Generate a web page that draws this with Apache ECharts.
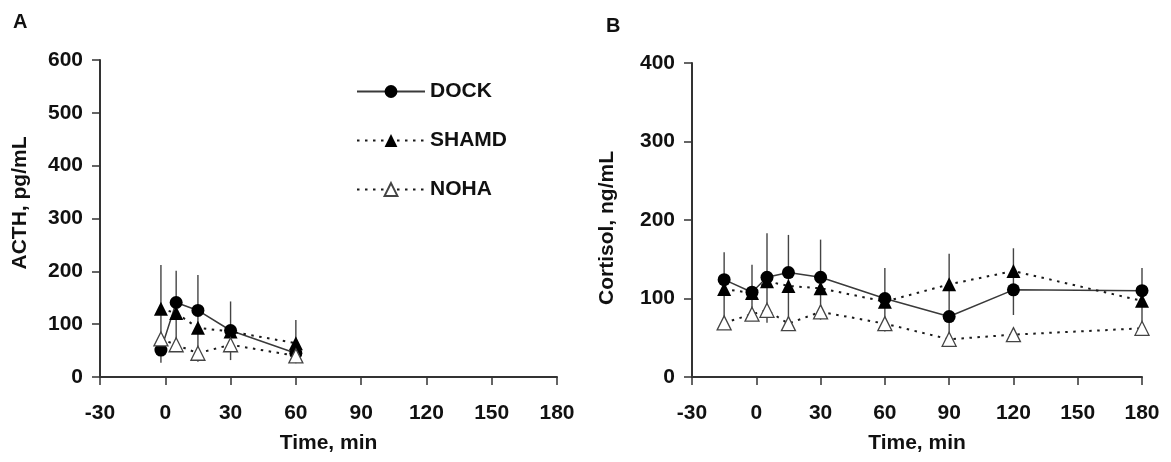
<!DOCTYPE html>
<html>
<head>
<meta charset="utf-8">
<script src="https://cdn.jsdelivr.net/npm/echarts@6/dist/echarts.min.js"></script>
<style>
html,body{margin:0;padding:0;background:#fff;}
#chart{width:1171px;height:462px;}
</style>
</head>
<body>
<div id="chart"></div>
<script>
// ---- Data ----
const seriesNames = ['DOCK', 'SHAMD', 'NOHA'];
const xTicks = [-30, 0, 30, 60, 90, 120, 150, 180];

// Panel A: ACTH, pg/mL
const acthTimes = [-2, 5, 15, 30, 60];
const acthDock = [51, 141, 126, 88, 45];
const acthShamd = [129, 121, 93, 86, 64];
const acthNoha = [72, 61, 45, 61, 40];
const acthErrLow = [27, 55, 29, 32, 26];
const acthErrHigh = [212, 201, 193, 143, 108];

// Panel B: Cortisol, ng/mL
const cortTimes = [-15, -2, 5, 15, 30, 60, 90, 120, 180];
const cortDock = [124, 108, 127, 133, 127, 100, 77, 111, 110];
const cortShamd = [112, 107, 122, 116, 113, 96, 118, 135, 97];
const cortNoha = [69, 80, 85, 68, 83, 68, 48, 54, 62];
const cortErrLow = [72, 76, 69, 63, 73, 58, 53, 79, 62];
const cortErrHigh = [159, 143, 183, 181, 175, 139, 157, 164, 139];

// ---- Chart ----
const FONT = '"Liberation Sans", Arial, Helvetica, sans-serif';
const INK = '#111';
const AX = '#333';

function pairs(xs, ys) { return xs.map((x, i) => [x, ys[i]]); }
function errData(xs, lo, hi) { return xs.map((x, i) => [x, lo[i], hi[i]]); }

function xAxis(gridIndex) {
  return {
    type: 'value', gridIndex, min: -30, max: 180, interval: 30,
    name: 'Time, min', nameLocation: 'middle', nameGap: 56,
    nameTextStyle: { fontFamily: FONT, fontWeight: 'bold', fontSize: 21, color: INK },
    axisLine: { show: true, onZero: false, lineStyle: { color: AX, width: 2 } },
    axisTick: { show: true, length: 8, lineStyle: { color: AX, width: 1.5 } },
    axisLabel: { margin: 26, fontFamily: FONT, fontWeight: 'bold', fontSize: 21, color: INK,
      formatter: v => String(v) },
    splitLine: { show: false }
  };
}
function yAxis(gridIndex, max) {
  return {
    type: 'value', gridIndex, min: 0, max, interval: 100,
    axisLine: { show: true, onZero: false, lineStyle: { color: AX, width: 2 } },
    axisTick: { show: true, length: 8, lineStyle: { color: AX, width: 1.5 } },
    axisLabel: { margin: 17, fontFamily: FONT, fontWeight: 'bold', fontSize: 21, color: INK },
    splitLine: { show: false }
  };
}

const styles = {
  DOCK: { symbol: 'circle', symbolSize: 13,
    lineStyle: { color: '#3a3a3a', width: 1.5, type: 'solid' },
    itemStyle: { color: '#000', borderColor: '#000', borderWidth: 0 } },
  SHAMD: { symbol: 'triangle', symbolSize: 14,
    lineStyle: { color: '#1a1a1a', width: 2, type: [2.5, 5.5] },
    itemStyle: { color: '#000', borderColor: '#000', borderWidth: 0 } },
  NOHA: { symbol: 'triangle', symbolSize: 14,
    lineStyle: { color: '#1a1a1a', width: 2, type: [2.5, 5.5] },
    itemStyle: { color: '#fff', borderColor: '#444', borderWidth: 1.3 } }
};

function lineSeries(name, idx, data) {
  const s = styles[name];
  return {
    type: 'line', name, xAxisIndex: idx, yAxisIndex: idx, data,
    symbol: s.symbol, symbolSize: s.symbolSize, showSymbol: true,
    lineStyle: s.lineStyle, itemStyle: s.itemStyle,
    emphasis: { disabled: true }, animation: false, z: 3
  };
}

function errSeries(idx, data) {
  return {
    type: 'custom', xAxisIndex: idx, yAxisIndex: idx, data, z: 2, animation: false,
    silent: true,
    renderItem: function (params, api) {
      const p1 = api.coord([api.value(0), api.value(1)]);
      const p2 = api.coord([api.value(0), api.value(2)]);
      return { type: 'line', shape: { x1: p1[0], y1: p1[1], x2: p2[0], y2: p2[1] },
        style: { stroke: '#444', lineWidth: 1.4 } };
    }
  };
}

const option = {
  backgroundColor: '#fff',
  animation: false,
  grid: [
    { left: 100, right: 614, top: 60, bottom: 85 },
    { left: 692, right: 29, top: 63, bottom: 85 }
  ],
  xAxis: [xAxis(0), xAxis(1)],
  yAxis: [yAxis(0, 600), yAxis(1, 400)],
  legend: {
    data: seriesNames, orient: 'vertical', left: 351, top: 76,
    itemWidth: 68, itemHeight: 16, itemGap: 28,
    textStyle: { fontFamily: FONT, fontWeight: 'bold', fontSize: 21, color: INK, lineHeight: 21 },
    selectedMode: false
  },
  graphic: [
    { type: 'text', left: 13, top: 12, style: { text: 'A', font: 'bold 20px ' + FONT, fill: INK } },
    { type: 'text', left: 606, top: 16, style: { text: 'B', font: 'bold 20px ' + FONT, fill: INK } },
    { type: 'text', x: 20, y: 203, rotation: Math.PI / 2,
      style: { text: 'ACTH, pg/mL', font: 'bold 21px ' + FONT, fill: INK, textAlign: 'center', textVerticalAlign: 'middle' } },
    { type: 'text', x: 607, y: 228, rotation: Math.PI / 2,
      style: { text: 'Cortisol, ng/mL', font: 'bold 21px ' + FONT, fill: INK, textAlign: 'center', textVerticalAlign: 'middle' } }
  ],
  series: [
    errSeries(0, errData(acthTimes, acthErrLow, acthErrHigh)),
    errSeries(1, errData(cortTimes, cortErrLow, cortErrHigh)),
    lineSeries('DOCK', 0, pairs(acthTimes, acthDock)),
    lineSeries('SHAMD', 0, pairs(acthTimes, acthShamd)),
    lineSeries('NOHA', 0, pairs(acthTimes, acthNoha)),
    lineSeries('DOCK', 1, pairs(cortTimes, cortDock)),
    lineSeries('SHAMD', 1, pairs(cortTimes, cortShamd)),
    lineSeries('NOHA', 1, pairs(cortTimes, cortNoha))
  ]
};

const chart = echarts.init(document.getElementById('chart'), null, { renderer: 'canvas' });
chart.setOption(option);
</script>
</body>
</html>
